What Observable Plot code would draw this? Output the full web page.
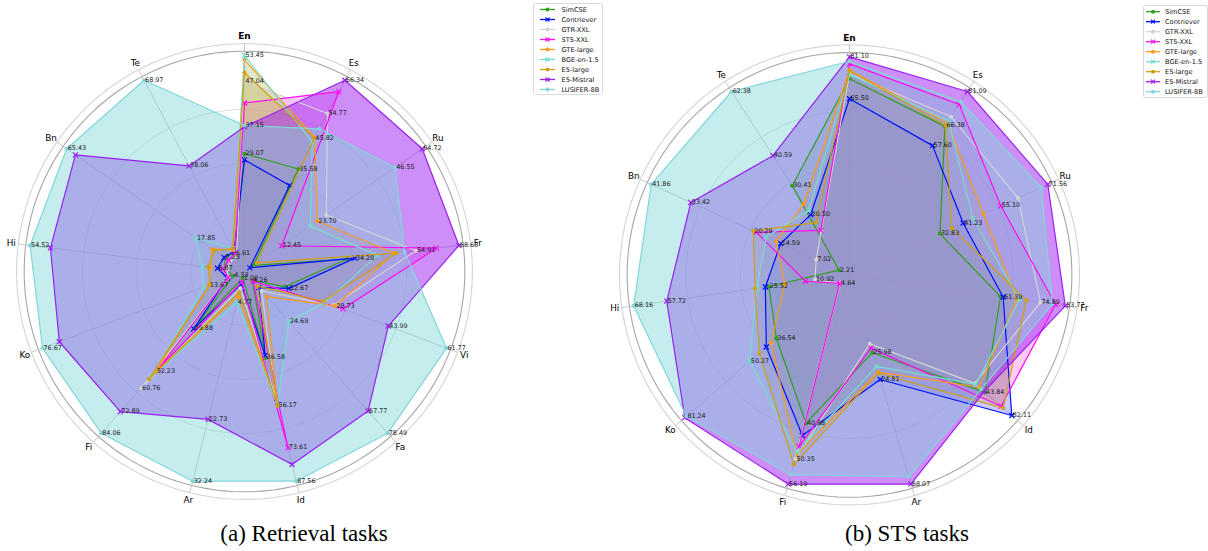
<!DOCTYPE html>
<html><head><meta charset="utf-8">
<script src="https://cdn.jsdelivr.net/npm/d3@7"></script>
<script src="https://cdn.jsdelivr.net/npm/@observablehq/plot@0.6"></script>
<style>
body{margin:0;background:#fff;font-family:"DejaVu Sans",sans-serif}
#wrap{position:relative;width:1208px;height:551px;overflow:hidden;background:#fff}
.panel{position:absolute;top:0}
.cap{position:absolute;top:521px;font-family:"Liberation Serif","Times New Roman",serif;font-size:23px;line-height:26px;color:#000;transform:translateX(-50%);white-space:nowrap}
.legend{position:absolute}
</style></head><body><div id="wrap"></div>
<script>
// ---- series (legend order) ----
const names = ["SimCSE","Contriever","GTR-XXL","ST5-XXL","GTE-large","BGE-en-1.5","E5-large","E5-Mistral","LUSIFER-8B"];
const colors = ["#2f9e1e","#0010ff","#d3d3d3","#ff10f0","#ff9a1a","#74ddd0","#cfa010","#9b1ff0","#80d6da"];
const markers = ["circle","times","circle","times","circle","times","circle","times","circle"];
const fillAlphas = [0.22,0.22,0.22,0.22,0.22,0.22,0.22,0.5,0.45];

// ---- (a) Retrieval: radial value normalised by each axis maximum ----
const retAxes = ["En","Es","Ru","Fr","Vi","Fa","Id","Ar","Fi","Ko","Hi","Bn","Te"];
const retSimCSE     = [0.545,0.536,0.05,0.48,0.20,0.054,0.412,0.031,0.35,0.056,0.09,0.111,0.10];
const retContriever = [0.517,0.45,0.03,0.515,0.22,0.10,0.40,0.06,0.355,0.085,0.126,0.115,0.105];
const retGTR        = [0.88,0.826,0.46,0.80,0.44,0.12,0.60,0.08,0.722,0.08,0.08,0.08,0.08];
const retST5        = [0.78,0.94,0.21,0.895,0.488,0.06,0.84,0.05,0.60,0.08,0.10,0.09,0.096];
const retGTE        = [0.98,0.70,0.41,0.70,0.45,0.155,0.64,0.12,0.62,0.176,0.158,0.183,0.113];
const retBGE        = [1.0,0.676,0.37,0.62,0.40,0.31,0.635,0.148,0.65,0.20,0.197,0.273,0.12];
const retE5large    = [0.92,0.698,0.07,0.71,0.39,0.09,0.64,0.10,0.666,0.17,0.17,0.17,0.12];
const retE5Mistral  = [0.67,1.0,1.0,1.0,0.712,0.863,0.92,0.705,0.867,0.917,0.905,0.951,0.552];
const retLUSIFER    = [0.676,0.746,0.848,0.747,1.0,1.0,1.0,1.0,1.0,1.0,1.0,1.0,1.0];
// [axis index, series index, label]
const retLabels = [
 [0,5,"53.45"],[0,2,"47.04"],[0,8,"37.15"],[0,0,"29.07"],
 [1,7,"66.34"],[1,2,"54.77"],[1,6,"45.82"],[1,0,"35.58"],
 [2,7,"64.72"],[2,8,"46.55"],[2,4,"23.70"],[2,3,"12.45"],
 [3,7,"68.63"],[3,2,"54.91"],[3,1,"34.20"],
 [4,8,"61.77"],[4,7,"43.99"],[4,4,"28.73"],[4,1,"12.67"],
 [5,8,"78.49"],[5,7,"67.77"],[5,5,"24.69"],[5,0,"4.26"],
 [6,8,"87.56"],[6,3,"73.61"],[6,6,"56.17"],[6,0,"36.58"],
 [7,8,"32.24"],[7,7,"22.73"],[7,5,"4.77"],[7,0,"1.00"],
 [8,8,"84.06"],[8,7,"72.89"],[8,2,"60.76"],[8,4,"52.23"],[8,1,"29.88"],
 [9,8,"76.67"],[9,4,"13.67"],[9,0,"4.33"],
 [10,8,"54.52"],[10,1,"6.87"],
 [11,8,"65.43"],[11,5,"17.85"],[11,0,"7.28"],
 [12,8,"68.97"],[12,7,"38.06"],[12,3,"6.61"]
];

// ---- (b) STS ----
const stsAxes = ["En","Es","Ru","Fr","Id","Ar","Fi","Ko","Hi","Bn","Te"];
const stsSimCSE     = [0.90,0.81,0.456,0.70,0.823,0.372,0.71,0.444,0.374,0.053,0.486];
const stsContriever = [0.808,0.705,0.573,0.712,0.985,0.50,0.768,0.505,0.39,0.347,0.329];
const stsGTR        = [0.922,0.862,0.85,0.885,0.76,0.33,0.88,0.057,0.16,0.168,0.24];
const stsST5        = [0.968,0.93,0.763,0.955,0.92,0.35,0.82,0.06,0.204,0.47,0.243];
const stsGTE        = [0.94,0.83,0.676,0.776,0.787,0.465,0.86,0.476,0.30,0.37,0.388];
const stsBGE        = [0.92,0.84,0.622,0.788,0.767,0.437,0.85,0.605,0.43,0.42,0.35];
const stsE5large    = [0.936,0.815,0.516,0.82,0.933,0.47,0.907,0.547,0.438,0.485,0.285];
const stsE5Mistral  = [1.0,1.0,1.0,1.0,0.817,1.0,1.0,1.0,0.847,0.80,0.65];
const stsLUSIFER    = [0.98,0.944,0.967,0.94,0.80,0.965,0.955,0.99,1.0,1.0,1.0];
const stsLabels = [
 [0,7,"81.10"],[0,1,"65.50"],
 [1,7,"81.09"],[1,6,"66.38"],[1,1,"57.60"],
 [2,7,"71.56"],[2,3,"55.10"],[2,1,"41.23"],[2,0,"32.83"],
 [3,7,"83.77"],[3,2,"74.89"],[3,1,"61.39"],
 [4,1,"82.11"],[4,0,"43.84"],
 [5,7,"68.07"],[5,0,"25.98"],[5,1,"24.81"],
 [6,7,"56.19"],[6,2,"50.35"],[6,0,"40.88"],
 [7,8,"81.24"],[7,5,"50.27"],[7,0,"36.54"],[7,2,"4.64"],
 [8,8,"68.16"],[8,7,"57.72"],[8,0,"25.52"],[8,2,"10.92"],
 [9,8,"41.86"],[9,7,"33.42"],[9,6,"20.29"],[9,1,"14.59"],[9,2,"7.02"],[9,0,"2.21"],
 [10,8,"62.38"],[10,7,"40.59"],[10,0,"30.41"],[10,1,"20.50"]
];

const retSeries = [retSimCSE,retContriever,retGTR,retST5,retGTE,retBGE,retE5large,retE5Mistral,retLUSIFER];
const stsSeries = [stsSimCSE,stsContriever,stsGTR,stsST5,stsGTE,stsBGE,stsE5large,stsE5Mistral,stsLUSIFER];

function radar({axes, series, labels, cx, cy, R, width, height}) {
  const n = axes.length;
  const th = i => 2 * Math.PI * i / n;
  const P = (i, r) => ({x: r * Math.sin(th(i)), y: r * Math.cos(th(i))});
  const ring = r => d3.range(0, 360.1, 1.5).map(a => ({x: r * Math.sin(a * Math.PI / 180), y: r * Math.cos(a * Math.PI / 180)}));
  const marks = [];
  [[0.25,"#d6d6d6",0.9],[0.5,"#d6d6d6",0.9],[0.75,"#d6d6d6",0.9],[1.02,"#a6a6a6",1.1],[1.055,"#d4d4d4",1.1]]
    .forEach(([r,c,w]) => marks.push(Plot.line(ring(r), {x:"x", y:"y", stroke:c, strokeWidth:w})));
  marks.push(Plot.link(axes.map((a,i) => P(i, 1.055)), {x1: () => 0, y1: () => 0, x2:"x", y2:"y", stroke:"#c2c2c2", strokeWidth:0.9}));
  const polys = series.map(vals => vals.map((v,i) => P(i, v)));
  polys.forEach((pts, s) => marks.push(Plot.line(pts, {x:"x", y:"y", curve:"linear-closed", fill:colors[s], fillOpacity:fillAlphas[s], stroke:"none"})));
  polys.forEach((pts, s) => {
    marks.push(Plot.line(pts, {x:"x", y:"y", curve:"linear-closed", stroke:colors[s], strokeWidth:1.2}));
    if (markers[s] === "circle") marks.push(Plot.dot(pts, {x:"x", y:"y", r:2.1, fill:colors[s], stroke:"none"}));
    else marks.push(Plot.dot(pts, {x:"x", y:"y", r:2.4, symbol:"times", stroke:colors[s], strokeWidth:1.2, fill:"none"}));
  });
  const lab = labels.map(([a, s, t]) => ({...P(a, series[s][a]), t}));
  marks.push(Plot.text(lab, {x:"x", y:"y", text:"t", textAnchor:"start", dx:1, dy:-0.5, fontSize:6.4, fill:"#1a1a1a"}));
  const axisData = axes.map((a,i) => ({...P(i, 1.088), a}));
  marks.push(Plot.text(axisData.filter(d => d.a !== "En"), {x:"x", y:"y", text:"a", fontSize:8.8, fill:"#000"}));
  marks.push(Plot.text(axisData.filter(d => d.a === "En"), {x:"x", y:"y", text:"a", fontSize:9, fontWeight:"bold", fill:"#000"}));
  return Plot.plot({
    width, height, margin:0,
    x:{domain:[-1,1], range:[cx - R, cx + R], axis:null},
    y:{domain:[-1,1], range:[cy + R, cy - R], axis:null},
    style:{fontFamily:"DejaVu Sans, sans-serif", background:"transparent", overflow:"visible"},
    marks
  });
}

function legend(left, top, w, h, lineX0, lineX1, textX, rowY0) {
  const svg = d3.create("svg").attr("width", w).attr("height", h).attr("class","legend")
    .style("left", left + "px").style("top", top + "px");
  svg.append("rect").attr("x",0.5).attr("y",0.5).attr("width",w-1).attr("height",h-1).attr("rx",2)
    .attr("fill","#fff").attr("stroke","#cfcfcf").attr("stroke-width",0.8);
  names.forEach((nm, i) => {
    const y = rowY0 + i * 10;
    const g = svg.append("g");
    g.append("line").attr("x1",lineX0).attr("x2",lineX1).attr("y1",y).attr("y2",y).attr("stroke",colors[i]).attr("stroke-width",1.3);
    const mx = (lineX0 + lineX1) / 2;
    if (markers[i] === "circle") g.append("circle").attr("cx",mx).attr("cy",y).attr("r",2).attr("fill",colors[i]);
    else g.append("path").attr("d",`M${mx-2},${y-2}L${mx+2},${y+2}M${mx-2},${y+2}L${mx+2},${y-2}`).attr("stroke",colors[i]).attr("stroke-width",1.1);
    g.append("text").attr("x",textX).attr("y",y).attr("dy","0.35em").attr("font-size",6.6)
      .attr("font-family","DejaVu Sans, sans-serif").attr("fill","#111").text(nm);
  });
  return svg.node();
}

const wrap = document.getElementById("wrap");
const left = radar({axes:retAxes, series:retSeries, labels:retLabels, cx:244, cy:271, R:216, width:604, height:515});
left.classList.add("panel"); left.style.left = "0px";
wrap.appendChild(left);
const right = radar({axes:stsAxes, series:stsSeries, labels:stsLabels, cx:245, cy:274.4, R:218, width:604, height:515});
right.classList.add("panel"); right.style.left = "604px";
wrap.appendChild(right);
wrap.appendChild(legend(533, 3, 70, 92, 7, 22, 28.5, 6.5));
wrap.appendChild(legend(1143, 5, 65, 93, 3, 17, 22, 6.7));
const c1 = document.createElement("div"); c1.className = "cap"; c1.style.left = "304px"; c1.textContent = "(a) Retrieval tasks"; wrap.appendChild(c1);
const c2 = document.createElement("div"); c2.className = "cap"; c2.style.left = "907px"; c2.textContent = "(b) STS tasks"; wrap.appendChild(c2);
</script></body></html>
